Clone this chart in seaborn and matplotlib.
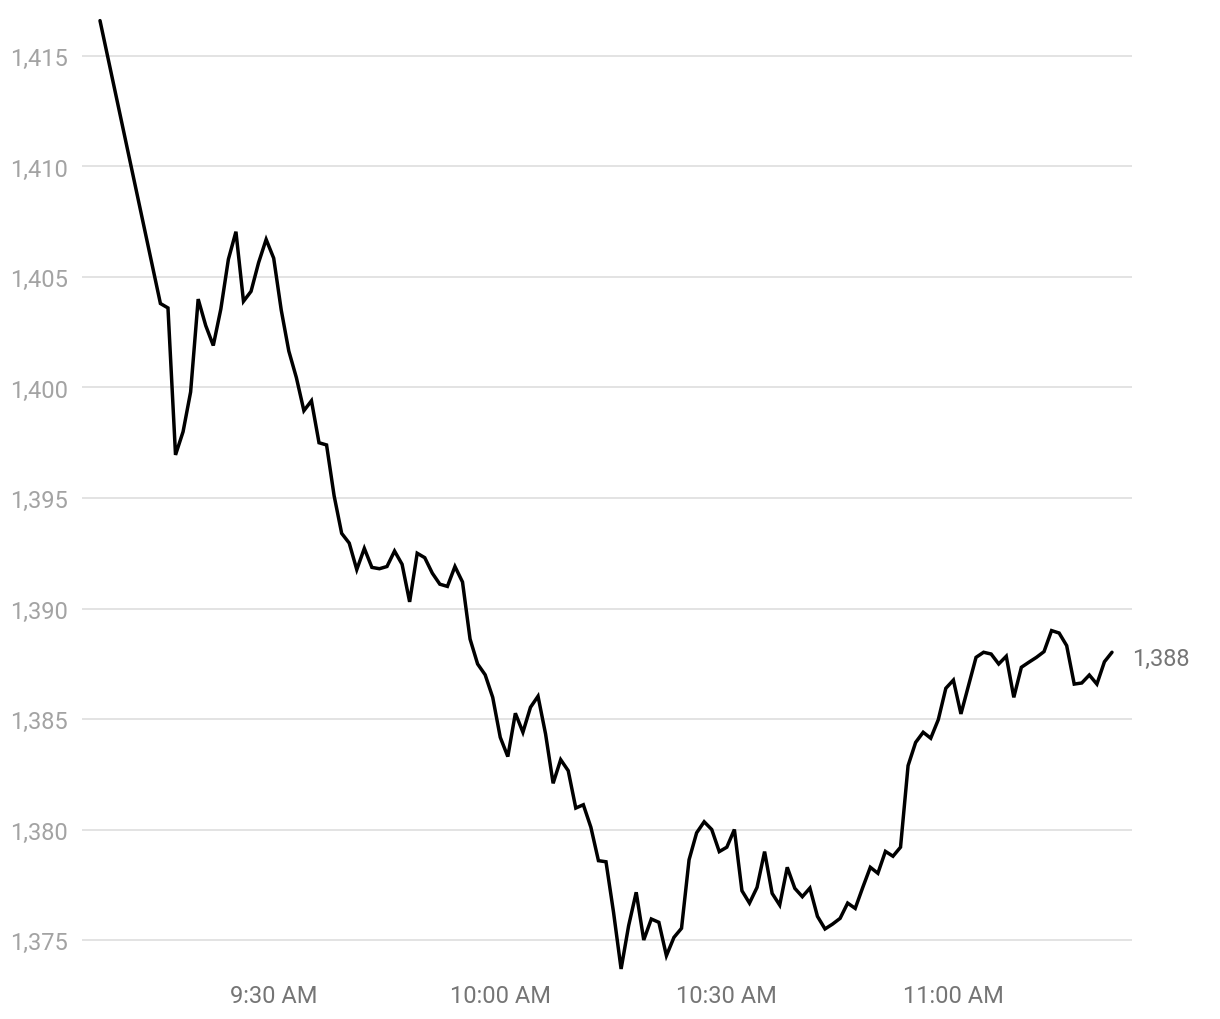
import matplotlib
matplotlib.use("Agg")
import matplotlib.pyplot as plt
import matplotlib.dates as mdates
import seaborn as sns
import pandas as pd

# ---- data ----
first_time = "09:07"
first_value = 1416.6
regular_start = "09:15"
regular_end = "11:21"
values = [
    1403.8, 1403.6, 1396.95, 1398.0, 1399.8, 1404.0, 1402.8, 1401.9, 1403.55, 1405.8,
    1407.05, 1403.9, 1404.35, 1405.65, 1406.7, 1405.85, 1403.5, 1401.65, 1400.45, 1398.95,
    1399.4, 1397.5, 1397.4, 1395.1, 1393.4, 1392.96, 1391.76, 1392.72, 1391.86, 1391.8,
    1391.9, 1392.6, 1392.0, 1390.3, 1392.5, 1392.3, 1391.6, 1391.1, 1391.0, 1391.9,
    1391.2, 1388.62, 1387.49, 1387.0, 1385.98, 1384.17, 1383.3, 1385.26, 1384.4, 1385.53,
    1386.03, 1384.32, 1382.09, 1383.16, 1382.66, 1380.97, 1381.12, 1380.1, 1378.59, 1378.54,
    1376.25, 1373.69, 1375.65, 1377.16, 1375.0, 1375.95, 1375.8, 1374.29, 1375.12, 1375.53,
    1378.63, 1379.85, 1380.35, 1380.0, 1379.0, 1379.2, 1380.0, 1377.23, 1376.67, 1377.38,
    1379.0, 1377.11, 1376.58, 1378.29, 1377.34, 1376.96, 1377.35, 1376.07, 1375.5, 1375.72,
    1375.98, 1376.67, 1376.43, 1377.38, 1378.29, 1378.02, 1379.01, 1378.79, 1379.2, 1382.89,
    1383.94, 1384.4, 1384.13, 1384.97, 1386.39, 1386.76, 1385.23, 1386.51, 1387.79, 1388.02,
    1387.94, 1387.49, 1387.84, 1385.98, 1387.34, 1387.57, 1387.79, 1388.05, 1389.0, 1388.89,
    1388.32, 1386.58, 1386.63, 1386.99, 1386.58, 1387.59, 1388.02,
]
y_ticks = [1375, 1380, 1385, 1390, 1395, 1400, 1405, 1410, 1415]
x_tick_times = ["09:30", "10:00", "10:30", "11:00"]
x_tick_labels = ["9:30 AM", "10:00 AM", "10:30 AM", "11:00 AM"]
last_label = "1,388"

day = "2024-01-02 "
times = [pd.Timestamp(day + first_time)] + list(
    pd.date_range(day + regular_start, day + regular_end, freq="min"))
df = pd.DataFrame({"time": times, "value": [first_value] + values})

# ---- style ----
sns.set_theme(style="white")
plt.rcParams["font.family"] = ["Roboto", "DejaVu Sans"]

W, H = 1220, 1020
fig = plt.figure(figsize=(W / 100, H / 100), dpi=100)
left, right, top, bottom = 82, 1132, 0, 978
ax = fig.add_axes([left / W, 1 - bottom / H, (right - left) / W, (bottom - top) / H])

sns.lineplot(data=df, x="time", y="value", ax=ax, color="black",
             linewidth=2.5, solid_joinstyle="miter")

ax.set_ylim(1373.326, 1417.579)
ax.set_xlim(pd.Timestamp(day + "09:04:37"), pd.Timestamp(day + "11:23:39"))

ax.set_yticks(y_ticks)
ax.set_yticklabels([f"{v:,}" for v in y_ticks])
ax.set_xticks([mdates.date2num(pd.Timestamp(day + t)) for t in x_tick_times])
ax.set_xticklabels(x_tick_labels)

ax.grid(axis="y", color="#e3e3e3", linewidth=1.4)
ax.grid(axis="x", visible=False)
ax.set_axisbelow(True)
for s in ax.spines.values():
    s.set_visible(False)
ax.tick_params(axis="y", length=0, pad=10, labelsize=17, labelcolor="#a3a3a3")
ax.tick_params(axis="x", length=0, pad=5, labelsize=17, labelcolor="#757575")
ax.set_xlabel("")
ax.set_ylabel("")

ax.annotate(last_label, xy=(df["time"].iloc[-1], df["value"].iloc[-1]),
            xytext=(14.5, -4.5), textcoords="offset points",
            va="center", ha="left", fontsize=17, color="#757575")

fig.savefig("out.png", dpi=100, facecolor="white")
